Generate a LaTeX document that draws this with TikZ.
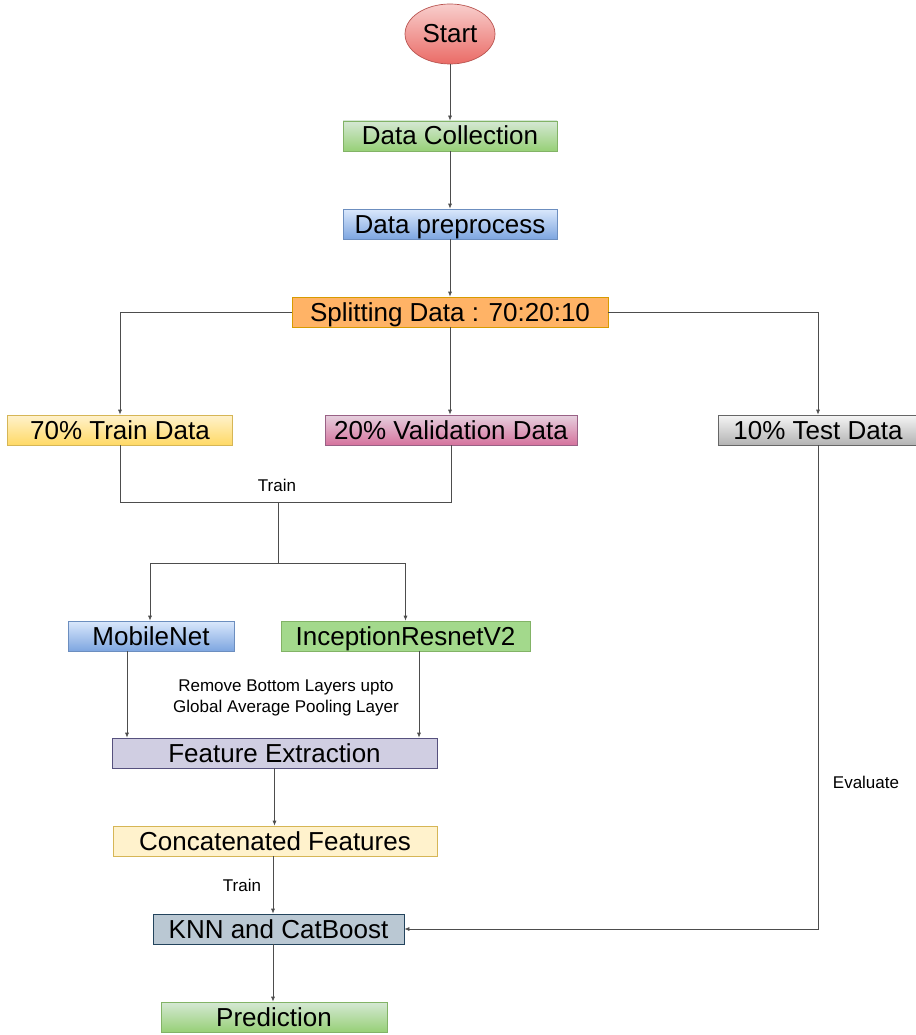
\documentclass[tikz,border=0pt]{standalone}
\usepackage{fontspec}
\setmainfont{Liberation Sans}
\usetikzlibrary{shapes.geometric,arrows.meta}

% fills (top / bottom) and strokes
\definecolor{redT}{HTML}{F8CECC}\definecolor{redB}{HTML}{EA6B66}\definecolor{redS}{HTML}{B85450}
\definecolor{grnT}{HTML}{D5E8D4}\definecolor{grnB}{HTML}{97D077}\definecolor{grnS}{HTML}{82B366}
\definecolor{bluT}{HTML}{DAE8FC}\definecolor{bluB}{HTML}{7EA6E0}\definecolor{bluS}{HTML}{6C8EBF}
\definecolor{orgF}{HTML}{FFB366}\definecolor{orgS}{HTML}{D79B00}
\definecolor{yelT}{HTML}{FFF2CC}\definecolor{yelB}{HTML}{FFD966}\definecolor{yelS}{HTML}{D6B656}
\definecolor{pnkT}{HTML}{E6D0DE}\definecolor{pnkB}{HTML}{D5739D}\definecolor{pnkS}{HTML}{996185}
\definecolor{gryT}{HTML}{F5F5F5}\definecolor{gryB}{HTML}{B3B3B3}\definecolor{gryS}{HTML}{666666}
\definecolor{incF}{HTML}{A3D98C}
\definecolor{purF}{HTML}{D0CEE2}\definecolor{purS}{HTML}{56517E}
\definecolor{cfF}{HTML}{FFF2CC}
\definecolor{knnF}{HTML}{BAC8D3}\definecolor{knnS}{HTML}{23445D}
\definecolor{lineC}{HTML}{4D4D4D}

\begin{document}
\begin{tikzpicture}[x=1pt,y=-1pt,
  box/.style={rectangle, draw, line width=0.7pt, inner sep=0pt, minimum height=30pt,
    text height=19pt, text depth=1pt, font=\fontsize{26}{30}\selectfont},
  grad/.style n args={3}{box, top color=#1, bottom color=#2, draw=#3},
  flat/.style n args={2}{box, fill=#1, draw=#2},
  conn/.style={draw=lineC, line width=0.7pt},
  arr/.style={conn, -{Latex[length=5pt,width=4pt]}},
  lbl/.style={font=\fontsize{17}{21}\selectfont, inner sep=0pt, align=center}]

\useasboundingbox (0,0) rectangle (915,1035);

% main flow
\node[ellipse, draw=redS, line width=0.7pt, top color=redT, bottom color=redB,
      minimum width=90pt, minimum height=60pt, inner sep=0pt,
      text height=19pt, text depth=1pt,
      font=\fontsize{26}{30}\selectfont] (start) at (450,34) {Start};
\node[grad={grnT}{grnB}{grnS}, minimum width=214pt] (dc) at (450,136) {Data Collection};
\node[grad={bluT}{bluB}{bluS}, minimum width=214pt] (dp) at (450,224) {Data preprocess};
\node[flat={orgF}{orgS}, minimum width=316pt] (split) at (450,312) {Splitting Data : 70:20:10};

% data split
\node[grad={yelT}{yelB}{yelS}, minimum width=225pt] (train) at (120,430) {70\% Train Data};
\node[grad={pnkT}{pnkB}{pnkS}, minimum width=252pt] (val) at (451,430) {20\% Validation Data};
\node[grad={gryT}{gryB}{gryS}, minimum width=200pt] (test) at (818,430) {10\% Test Data};

% models
\node[grad={bluT}{bluB}{bluS}, minimum width=166pt] (mob) at (151,636) {MobileNet};
\node[flat={incF}{grnS}, minimum width=249pt] (inc) at (405.5,636) {InceptionResnetV2};
\node[flat={purF}{purS}, minimum width=325pt] (fe) at (274.5,753) {Feature Extraction};
\node[flat={cfF}{yelS}, minimum width=324pt] (cf) at (275,841) {Concatenated Features};
\node[flat={knnF}{knnS}, minimum width=251pt] (knn) at (278.5,929) {KNN and CatBoost};
\node[grad={grnT}{grnB}{grnS}, minimum width=226pt] (pred) at (274,1017) {Prediction};

% labels
\node[lbl] (ltrain) at (277,485) {Train};
\node[lbl] (lremove) at (286,698) {Remove Bottom Layers upto\\Global Average Pooling Layer};
\node[lbl] (ltrain2) at (242,885) {Train};
\node[lbl] (leval) at (866,782) {Evaluate};

% junctions
\coordinate (merge) at (278,502);
\coordinate (fork) at (278,563);

% connectors
\draw[arr] (start) -- (dc);
\draw[arr] (dc) -- (dp);
\draw[arr] (dp) -- (split);
\draw[arr] (split.west) -| (train.north);
\draw[arr] (split.south) -- (split.south |- val.north);
\draw[arr] (split.east) -| (test.north);
\draw[conn] (train.south) |- (val.south |- merge) -- (val.south);
\draw[conn] (merge) -- (fork);
\draw[arr] (fork) -| ([xshift=-1pt]mob.north);
\draw[arr] (fork) -| (inc.north);
\draw[arr] ([xshift=-24pt]mob.south) -- ([xshift=-24pt]mob.south |- fe.north);
\draw[arr] ([xshift=13.5pt]inc.south) -- ([xshift=13.5pt]inc.south |- fe.north);
\draw[arr] (fe.south) -- (fe.south |- cf.north);
\draw[arr] ([xshift=-2pt]cf.south) -- ([xshift=-2pt]cf.south |- knn.north);
\draw[arr] ([xshift=-1pt]pred.north |- knn.south) -- ([xshift=-1pt]pred.north);
\draw[arr] (test.south) |- (knn.east);

\end{tikzpicture}
\end{document}
